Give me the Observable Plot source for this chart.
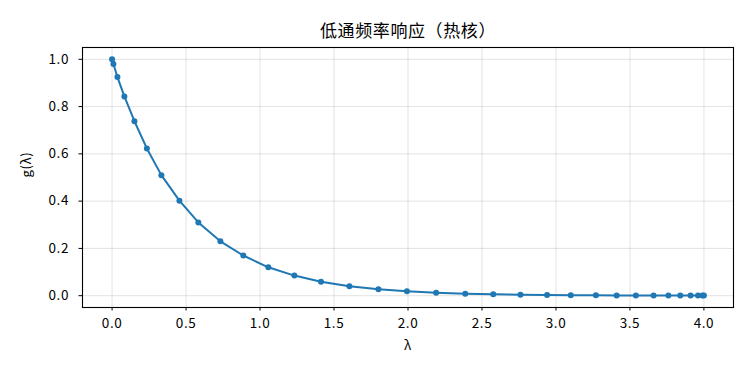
<!DOCTYPE html>
<html><head><meta charset="utf-8">
<script src="https://cdn.jsdelivr.net/npm/d3@7"></script>
<script src="https://cdn.jsdelivr.net/npm/@observablehq/plot@0.6"></script>
<style>body{margin:0;background:#fff} svg{display:block}</style>
</head><body><div id="chart"></div>
<script>
const title = "低通频率响应（热核）";
const xLabel = "λ";
const yLabel = "g(λ)";
const lambda = [0, 0.009, 0.036, 0.083, 0.151, 0.235, 0.333, 0.455, 0.583, 0.732, 0.887, 1.056,
  1.232, 1.412, 1.604, 1.80, 1.993, 2.19, 2.387, 2.576, 2.76, 2.94, 3.10, 3.27, 3.41, 3.54,
  3.66, 3.76, 3.84, 3.91, 3.96, 3.99, 4.0];
const response = [1.0, 0.980, 0.925, 0.843, 0.738, 0.623, 0.510, 0.402, 0.310, 0.230, 0.170, 0.120,
  0.085, 0.059, 0.040, 0.027, 0.019, 0.0125, 0.0084, 0.0058, 0.004, 0.0028, 0.002, 0.0014, 0.0011, 0.0008,
  0.0007, 0.0005, 0.0005, 0.0004, 0.0004, 0.0003, 0.0003];
const xTicks = [0, 0.5, 1, 1.5, 2, 2.5, 3, 3.5, 4];
const yTicks = [0, 0.2, 0.4, 0.6, 0.8, 1.0];

const data = lambda.map((l, i) => ({l, g: response[i]}));
const font = "'Noto Sans CJK SC', sans-serif";
const fmt = d3.format(".1f");
const chart = Plot.plot({
  width: 750, height: 375,
  marginLeft: 82, marginRight: 17, marginTop: 47, marginBottom: 68,
  style: {fontFamily: font, fontSize: "13px", background: "#fff", color: "#000", letterSpacing: "0.6px"},
  x: {domain: [-0.2, 4.2]},
  y: {domain: [-0.05, 1.05]},
  marks: [
    Plot.gridX(xTicks, {stroke: "#b0b0b0", strokeOpacity: 0.35, strokeWidth: 1}),
    Plot.gridY(yTicks, {stroke: "#b0b0b0", strokeOpacity: 0.35, strokeWidth: 1}),
    Plot.axisX(xTicks, {tickSize: 3.5, tickPadding: 7, tickFormat: fmt, label: null, fontSize: 13.5}),
    Plot.axisY(yTicks, {tickSize: 3.5, tickPadding: 10, tickFormat: fmt, label: null, fontSize: 13.5}),
    Plot.line(data, {x: "l", y: "g", stroke: "#1f77b4", strokeWidth: 2}),
    Plot.dot(data, {x: "l", y: "g", fill: "#1f77b4", r: 3}),
    Plot.frame({stroke: "#000", strokeWidth: 1.1}),
    Plot.text([title], {frameAnchor: "top", dy: -23, fontSize: 17, text: d => d}),
    Plot.text([xLabel], {frameAnchor: "bottom", dy: 42, fontSize: 13, text: d => d}),
    Plot.text([yLabel], {frameAnchor: "left", dx: -56, rotate: -90, fontSize: 13, text: d => d})
  ]
});
document.getElementById("chart").append(chart);
</script>
</body></html>
